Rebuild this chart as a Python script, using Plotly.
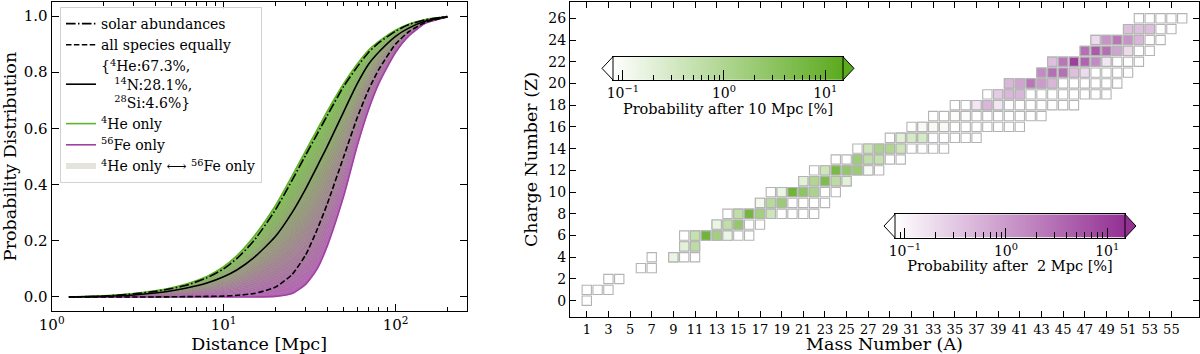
import numpy as np
import plotly.graph_objects as go

W, H = 1200, 354
FONT = "DejaVu Serif"

# ---------------- left panel: distance distributions ----------------
distance = [1.26, 1.5, 2, 3, 4, 5, 6, 8, 10, 12, 15, 20, 25, 30, 35, 40, 50, 60, 70, 80, 100, 120, 150, 200]
p_he = [0.0, 0.001, 0.004, 0.012, 0.022, 0.033, 0.045, 0.073, 0.108, 0.148, 0.215, 0.325, 0.43, 0.52, 0.595,
        0.66, 0.76, 0.83, 0.88, 0.91, 0.95, 0.972, 0.988, 0.998]
p_solar = [0.0, 0.001, 0.003, 0.011, 0.02, 0.03, 0.041, 0.068, 0.1, 0.138, 0.2, 0.31, 0.415, 0.505, 0.58,
           0.645, 0.75, 0.82, 0.872, 0.905, 0.946, 0.97, 0.987, 0.998]
p_mix = [0.0, 0.0005, 0.002, 0.007, 0.014, 0.022, 0.031, 0.05, 0.072, 0.097, 0.14, 0.215, 0.3, 0.385, 0.465,
         0.535, 0.66, 0.76, 0.83, 0.872, 0.928, 0.958, 0.982, 0.998]
p_equal = [0.0, 0.0, 0.0, 0.0, 0.0, 0.0005, 0.001, 0.002, 0.003, 0.006, 0.012, 0.035, 0.08, 0.15, 0.24,
           0.33, 0.5, 0.64, 0.74, 0.81, 0.9, 0.945, 0.978, 0.997]
p_fe = [0.0, 0.0, 0.0, 0.0, 0.0, 0.0, 0.0, 0.0, 0.0, 0.0, 0.0, 0.002, 0.012, 0.045, 0.1,
        0.18, 0.36, 0.54, 0.67, 0.76, 0.87, 0.93, 0.975, 0.997]

# ---------------- right panel: nuclide chart ----------------
# rows of the chart: (Z, first A, last A)
row_z = [0, 1, 2, 3, 4, 4, 5, 6, 7, 8, 9, 10, 11, 12, 13, 14, 15, 16, 17, 18, 19, 20, 21, 22, 23, 24, 25, 26]
row_a0 = [1, 1, 3, 6, 7, 9, 10, 10, 13, 14, 17, 18, 21, 22, 24, 26, 29, 31, 33, 35, 38, 40, 43, 44, 47, 48, 51, 52]
row_a1 = [1, 3, 4, 7, 7, 11, 11, 16, 17, 22, 23, 24, 25, 28, 30, 34, 37, 41, 43, 46, 49, 50, 51, 52, 53, 54, 55, 56]

# probability after 10 Mpc [%]
green_a = [9, 10, 11, 11, 12, 13, 14, 13, 14, 15, 15, 16, 17, 18, 17, 18, 19, 19, 20, 21, 22,
           21, 22, 23, 24, 25, 23, 24, 25, 26, 27, 26, 27, 28, 27, 28, 29, 30, 30, 31, 32, 32, 33, 34, 35, 36]
green_z = [4, 5, 5, 6, 6, 6, 6, 7, 7, 7, 8, 8, 8, 8, 9, 9, 9, 10, 10, 10, 10,
           11, 11, 11, 11, 11, 12, 12, 12, 12, 12, 13, 13, 13, 14, 14, 14, 14, 15, 15, 15, 16, 16, 16, 17, 17]
green_p = [0.15, 0.2, 0.7, 0.5, 8, 1.5, 0.15, 0.15, 0.6, 2.5, 0.6, 7, 1.5, 0.4, 0.12, 0.8, 2, 0.15, 8, 3, 1.2,
           0.2, 1.0, 5, 0.7, 0.2, 0.4, 6, 2.5, 2, 0.1, 1.8, 0.6, 0.5, 0.4, 1.2, 1.0, 0.4, 0.2, 0.3, 0.3, 0.1, 0.1,
           0.1, 0.09, 0.09]

# probability after 2 Mpc [%]
purple_a = [37, 38, 39, 39, 40, 41, 40, 41, 42, 43, 44, 43, 44, 45, 46, 47, 44, 45, 46, 47, 48, 49,
            47, 48, 49, 50, 51, 48, 49, 50, 51, 52, 51, 52, 53]
purple_z = [18, 18, 18, 19, 19, 19, 20, 20, 20, 20, 20, 21, 21, 21, 21, 21, 22, 22, 22, 22, 22, 22,
            23, 23, 23, 23, 23, 24, 24, 24, 24, 24, 25, 25, 25]
purple_p = [0.15, 0.5, 0.15, 0.3, 0.5, 0.5, 0.5, 0.8, 2.5, 1.0, 0.5, 1.5, 3, 3, 0.4, 0.2, 0.4, 2.5, 10, 4, 1.5, 0.15,
            3, 5, 3, 0.8, 0.2, 0.2, 1.2, 2.5, 1.2, 0.5, 0.4, 0.4, 0.4]

cbar_minor = [0.08, 0.09, 0.2, 0.3, 0.4, 0.5, 0.6, 0.7, 0.8, 0.9, 2, 3, 4, 5, 6, 7, 8, 9]
P_MIN, P_MAX = 0.08, 15

HE_COL = (96, 178, 40)
FE_COL = (160, 64, 160)
GREEN_END = "rgb(92,170,30)"
PURPLE_END = "rgb(148,48,148)"
green_scale = [[0, "white"], [1, GREEN_END]]
purple_scale = [[0, "white"], [1, PURPLE_END]]


def px(x):
    return x / W


def py(y):
    return 1 - y / H


fig = go.Figure()

# gradient band between 4He only and 56Fe only
he = np.array(p_he)
fe = np.array(p_fe)
n_band = 30
for k in range(n_band):
    f0, f1 = k / n_band, (k + 1) / n_band
    upper = (1 - f0) * he + f0 * fe
    lower = (1 - f1) * he + f1 * fe
    fm = (f0 + f1) / 2
    c = [round((HE_COL[i] * (1 - fm) + FE_COL[i] * fm) * 0.8 + 255 * 0.2) for i in range(3)]
    fig.add_trace(go.Scatter(
        x=distance + distance[::-1], y=list(upper) + list(lower[::-1]),
        fill="toself", fillcolor=f"rgb({c[0]},{c[1]},{c[2]})", mode="lines",
        line=dict(width=0.6, color=f"rgb({c[0]},{c[1]},{c[2]})", shape="spline", smoothing=0.6),
        showlegend=False, hoverinfo="skip", xaxis="x", yaxis="y"))

line_shape = dict(shape="spline", smoothing=0.6)
fig.add_trace(go.Scatter(x=distance, y=p_fe, mode="lines",
                         line=dict(color="rgb(160,64,160)", width=1.6, **line_shape),
                         name="<sup>56</sup>Fe only", legendrank=5, xaxis="x", yaxis="y"))
fig.add_trace(go.Scatter(x=distance, y=p_he, mode="lines",
                         line=dict(color="rgb(96,178,40)", width=1.6, **line_shape),
                         name="<sup>4</sup>He only", legendrank=4, xaxis="x", yaxis="y"))
fig.add_trace(go.Scatter(x=distance, y=p_equal, mode="lines",
                         line=dict(color="black", width=1.6, dash="5.5px,2.4px", **line_shape),
                         name="all species equally", legendrank=2, xaxis="x", yaxis="y"))
fig.add_trace(go.Scatter(x=distance, y=p_mix, mode="lines", line=dict(color="black", width=1.6, **line_shape),
                         name="{<sup>4</sup>He:67.3%,<br>&nbsp;&nbsp;&nbsp;<sup>14</sup>N:28.1%,<br>&nbsp;&nbsp;&nbsp;<sup>28</sup>Si:4.6%}",
                         legendrank=3, xaxis="x", yaxis="y"))
fig.add_trace(go.Scatter(x=distance, y=p_solar, mode="lines",
                         line=dict(color="black", width=1.6, dash="9.6px,2.4px,1.5px,2.4px", **line_shape),
                         name="solar abundances", legendrank=1, xaxis="x", yaxis="y"))
fig.add_trace(go.Scatter(x=[None], y=[None], mode="none", fill="toself", fillcolor="rgb(228,228,220)",
                         name="<sup>4</sup>He only \u27f7 <sup>56</sup>Fe only", legendrank=6,
                         xaxis="x", yaxis="y"))

# nuclide chart: all cells
all_a, all_z = [], []
for z, a0, a1 in zip(row_z, row_a0, row_a1):
    for a in range(a0, a1 + 1):
        all_a.append(a)
        all_z.append(z)

cell = dict(symbol="square", size=9.3, line=dict(color="rgb(180,180,180)", width=1.1))
fig.add_trace(go.Scatter(x=all_a, y=all_z, mode="markers", marker=dict(color="white", **cell),
                         showlegend=False, hoverinfo="skip", xaxis="x2", yaxis="y2"))
fig.add_trace(go.Scatter(x=green_a, y=green_z, mode="markers",
                         marker=dict(color=np.log10(green_p), colorscale=green_scale,
                                     cmin=np.log10(P_MIN), cmax=np.log10(P_MAX), **cell),
                         showlegend=False, xaxis="x2", yaxis="y2"))
fig.add_trace(go.Scatter(x=purple_a, y=purple_z, mode="markers",
                         marker=dict(color=np.log10(purple_p), colorscale=purple_scale,
                                     cmin=np.log10(P_MIN), cmax=np.log10(P_MAX), **cell),
                         showlegend=False, xaxis="x2", yaxis="y2"))

# colour bars drawn as heatmaps on their own log axes
ramp = np.geomspace(P_MIN, P_MAX, 300)
for scale, xa, ya in [(green_scale, "x3", "y3"), (purple_scale, "x4", "y4")]:
    fig.add_trace(go.Heatmap(x=ramp, y=[0], z=[np.log10(ramp)], colorscale=scale,
                             zmin=np.log10(P_MIN), zmax=np.log10(P_MAX), showscale=False,
                             hoverinfo="skip", xaxis=xa, yaxis=ya))

axis_common = dict(showline=True, linecolor="black", linewidth=1.3, mirror="ticks", ticks="inside",
                   tickcolor="black", showgrid=False, zeroline=False, automargin=False,
                   tickfont=dict(family=FONT, size=15, color="black"))

cbar_x = dict(type="log", range=[np.log10(P_MIN), np.log10(P_MAX)], showline=True, linecolor="black",
              linewidth=1, mirror=True, ticks="inside", ticklen=10, tickwidth=1, tickcolor="black",
              tickvals=[0.1, 1, 10], ticktext=["10<sup>\u22121</sup>", "10<sup>0</sup>", "10<sup>1</sup>"],
              minor=dict(tickvals=cbar_minor, ticks="inside", ticklen=5.5, tickcolor="black"),
              showgrid=False, zeroline=False, automargin=False,
              tickfont=dict(family=FONT, size=14, color="black"))
cbar_y = dict(showline=True, linecolor="black", linewidth=1, mirror=True, ticks="", showticklabels=False,
              showgrid=False, zeroline=False, range=[-0.5, 0.5], automargin=False)

fig.update_layout(
    width=W, height=H, margin=dict(l=0, r=0, t=0, b=0, autoexpand=False),
    paper_bgcolor="white", plot_bgcolor="rgba(0,0,0,0)",
    font=dict(family=FONT, color="black"),
    xaxis=dict(axis_common, domain=[px(51.7), px(466.7)], type="log", range=[0, 2.414], anchor="y",
               tickvals=[1, 10, 100], ticktext=["10<sup>0</sup>", "10<sup>1</sup>", "10<sup>2</sup>"],
               ticklen=7, minor=dict(tickvals=[2, 3, 4, 5, 6, 7, 8, 9, 20, 30, 40, 50, 60, 70, 80, 90, 200],
                                     ticks="inside", ticklen=4, tickcolor="black"),
               title=dict(text="Distance [Mpc]", font=dict(size=17.5), standoff=6)),
    yaxis=dict(axis_common, domain=[py(311), py(2)], range=[-0.05, 1.05], tickvals=[0, 0.2, 0.4, 0.6, 0.8, 1.0],
               tickformat=".1f", ticklen=7, anchor="x",
               title=dict(text="Probability Distribution", font=dict(size=17.5), standoff=6)),
    xaxis2=dict(axis_common, domain=[px(570), px(1199)], range=[-0.55, 57.55], tickvals=list(range(1, 56, 2)),
                ticklen=6, tickfont=dict(family=FONT, size=13, color="black"), anchor="y2",
                title=dict(text="Mass Number (A)", font=dict(size=17.5), standoff=6)),
    yaxis2=dict(axis_common, domain=[py(317), py(2)], range=[-1.5, 27.5], tickvals=list(range(0, 27, 2)),
                ticklen=6, tickfont=dict(family=FONT, size=14, color="black"), anchor="x2",
                title=dict(text="Charge Number (Z)", font=dict(size=17.5), standoff=6)),
    xaxis3=dict(cbar_x, domain=[px(613), px(843)], anchor="y3",
                title=dict(text="Probability after 10 Mpc [%]", font=dict(size=14.5), standoff=3)),
    yaxis3=dict(cbar_y, domain=[py(80), py(56.7)], anchor="x3"),
    xaxis4=dict(cbar_x, domain=[px(895), px(1125)], anchor="y4",
                title=dict(text="Probability after&nbsp;&nbsp;2 Mpc [%]", font=dict(size=14.5), standoff=3)),
    yaxis4=dict(cbar_y, domain=[py(237.7), py(214.3)], anchor="x4"),
    legend=dict(x=px(60), y=py(7), xanchor="left", yanchor="top", bgcolor="rgba(255,255,255,0.85)",
                bordercolor="rgb(210,210,210)", borderwidth=1, font=dict(family=FONT, size=14),
                tracegroupgap=0, itemwidth=30),
)

# extension triangles of the colour bars
for x0, x1, y0, y1, end_col in [(613, 843, 56.7, 80, GREEN_END), (895, 1125, 214.3, 237.7, PURPLE_END)]:
    ym = (y0 + y1) / 2
    fig.add_shape(type="path", xref="paper", yref="paper", layer="above",
                  path=f"M {px(x0)},{py(y0)} L {px(x0 - 11)},{py(ym)} L {px(x0)},{py(y1)} Z",
                  fillcolor="white", line=dict(color="black", width=1))
    fig.add_shape(type="path", xref="paper", yref="paper", layer="above",
                  path=f"M {px(x1)},{py(y0)} L {px(x1 + 11)},{py(ym)} L {px(x1)},{py(y1)} Z",
                  fillcolor=end_col, line=dict(color="black", width=1))

# the page body has a default 8px margin; remove it so the figure fills the window
fig.write_html("out.html", config={"displayModeBar": False},
               post_script="document.body.style.margin='0px';")
